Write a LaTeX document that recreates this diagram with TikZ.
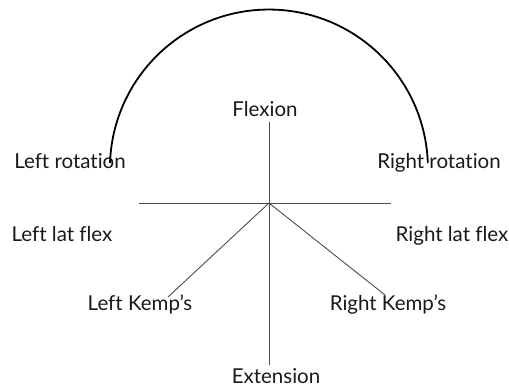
\documentclass[tikz,border=0pt]{standalone}
\usepackage{fontspec}
\setmainfont{Lato}[Ligatures={NoCommon}]
\begin{document}
\begin{tikzpicture}[x=1pt,y=1pt,
  lbl/.style={anchor=base,inner sep=0pt,text=black!90,font=\fontsize{20.5}{23}\selectfont},
  axis/.style={draw=black!70,line width=0.9pt},
  rotarc/.style={draw=black,line width=1.8pt}]
\useasboundingbox (0,0) rectangle (509,389);
% centre and axis ends
\coordinate (O) at (269,186);
\coordinate (top) at (269,267);
\coordinate (bot) at (269,24);
\coordinate (hl) at (139,186);
\coordinate (hr) at (391,186);
\coordinate (kl) at (168,92);
\coordinate (kr) at (385,94);
\coordinate (arcL) at (110,226);
% labels
\node[lbl] (flex) at (265,272) {Flexion};
\node[lbl] (ext) at (276,6) {Extension};
\node[lbl] (lrot) at (70,221) {Left rotation};
\node[lbl] (rrot) at (439,221) {Right rotation};
\node[lbl] (llat) at (62,148) {Left lat flex};
\node[lbl] (rlat) at (452,148) {Right lat flex};
\node[lbl] (lkemp) at (140,79) {Left Kemp's};
\node[lbl] (rkemp) at (388,79) {Right Kemp's};
% axes
\draw[axis] (top) -- (bot);
\draw[axis] (hl) -- (hr);
\draw[axis] (O) -- (kl);
\draw[axis] (O) -- (kr);
% rotation arc
\draw[rotarc] (arcL) arc[start angle=178,end angle=2,radius=159];
\end{tikzpicture}
\end{document}
